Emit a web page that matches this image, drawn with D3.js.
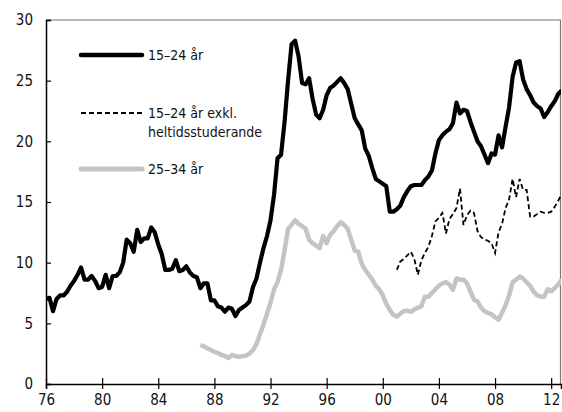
<!DOCTYPE html>
<html>
<head>
<meta charset="utf-8">
<script src="https://cdn.jsdelivr.net/npm/d3@7"></script>
<style>
  body { margin: 0; background: #fff; }
  text { font-family: "Liberation Sans Narrow", "DejaVu Sans Condensed", "Roboto Condensed", sans-serif; fill: #111; }
</style>
</head>
<body>
<script>
// Quarterly series, unemployment in percent
const start1524 = 1976;
const youth1524 = [
  7.0, 7.1, 6.0, 7.0, 7.3, 7.3, 7.6, 8.1, 8.5, 9.0, 9.6, 8.6, 8.6, 8.9, 8.5, 7.9,
  8.0, 9.0, 7.9, 8.9, 8.9, 9.2, 10.0, 11.9, 11.6, 10.9, 12.7, 11.7, 12.0, 12.0, 12.9, 12.5,
  11.5, 10.7, 9.4, 9.4, 9.5, 10.2, 9.3, 9.4, 9.7, 9.2, 8.9, 8.8, 7.9, 8.3, 8.3, 6.9,
  6.9, 6.4, 6.3, 5.96, 6.3, 6.2, 5.6, 6.1, 6.3, 6.5, 6.8, 8.0, 8.7, 10.0, 11.2, 12.2,
  13.5, 15.6, 18.6, 18.9, 21.6, 25.0, 28.0, 28.3, 27.0, 24.8, 24.7, 25.2, 23.5, 22.2, 21.9, 22.6,
  23.8, 24.4, 24.6, 24.9, 25.2, 24.8, 24.3, 23.1, 21.9, 21.4, 20.9, 19.4, 18.8, 17.8, 16.9, 16.7,
  16.5, 16.3, 14.2, 14.2, 14.4, 14.7, 15.4, 15.9, 16.3, 16.4, 16.4, 16.4, 16.8, 17.1, 17.6, 19.0,
  20.1, 20.5, 20.8, 21.0, 21.5, 23.2, 22.3, 22.6, 22.5, 21.6, 20.8, 20.0, 19.6, 18.9, 18.2, 19.0,
  18.9, 20.5, 19.5, 21.2, 22.8, 25.3, 26.5, 26.6, 25.1, 24.3, 23.8, 23.2, 22.9, 22.7, 22.0, 22.4,
  22.9, 23.3, 23.9, 24.2
];

const startExStud = 2001;
const youthExStud = [
  9.4, 10.1, 10.3, 10.6, 10.9, 10.3, 9.0, 10.2, 10.8, 11.3, 12.2, 13.4, 13.7, 14.1, 12.4, 13.6,
  14.0, 14.5, 16.1, 13.1, 13.9, 14.3, 14.1, 12.6, 12.1, 11.9, 11.8, 11.6, 10.8, 12.5, 13.2, 14.5,
  15.2, 16.9, 15.4, 16.9, 16.0, 16.0, 13.8, 13.8, 14.0, 14.2, 14.1, 14.1, 14.2, 14.6, 15.1, 15.7
];

const start2534 = 1987;
const adult2534 = [
  3.2, 3.1, 2.95, 2.8, 2.65, 2.55, 2.4, 2.3, 2.15, 2.4, 2.3, 2.25, 2.3, 2.35, 2.5, 2.8,
  3.3, 4.1, 4.9, 5.8, 6.7, 7.8, 8.4, 9.4, 11.0, 12.8, 13.1, 13.5, 13.2, 13.0, 12.8, 11.9,
  11.6, 11.4, 11.2, 12.2, 11.6, 12.3, 12.6, 13.0, 13.35, 13.1, 12.8, 11.9, 11.0, 10.9, 9.9, 9.4,
  9.0, 8.6, 8.1, 7.8, 7.3, 6.6, 6.1, 5.7, 5.55, 5.8, 6.0, 6.05, 5.95, 6.15, 6.3, 6.4,
  7.2, 7.2, 7.5, 7.8, 8.1, 8.3, 8.4, 8.2, 7.75, 8.7, 8.6, 8.6, 8.3, 7.6, 6.95, 6.8,
  6.3, 6.0, 5.85, 5.75, 5.5, 5.3, 5.9, 6.5, 7.3, 8.4, 8.6, 8.85, 8.7, 8.4, 8.1, 7.6,
  7.3, 7.2, 7.2, 7.8, 7.65, 7.9, 8.2, 8.6
];

const xTickYears = [1976, 1980, 1984, 1988, 1992, 1996, 2000, 2004, 2008, 2012];
const yTicks = [0, 5, 10, 15, 20, 25, 30];
const legendLabels = [["15–24 år"], ["15–24 år exkl.", "heltidsstuderande"], ["25–34 år"]];

const width = 562, height = 412;
const margin = {top: 20, right: 1, bottom: 28, left: 46};

const toPoints = (startYear, arr) => arr.map((v, i) => ({t: startYear + i / 4, v: v}));

const svg = d3.select("body").append("svg")
    .attr("width", width)
    .attr("height", height);

const x = d3.scaleLinear().domain([1976, 2012.7]).range([margin.left, width - margin.right]);
const y = d3.scaleLinear().domain([0, 30]).range([height - margin.bottom, margin.top]);

svg.append("defs").append("clipPath").attr("id", "plot")
  .append("rect")
    .attr("x", margin.left).attr("y", 0)
    .attr("width", width - margin.right - margin.left)
    .attr("height", height);

// frame top & right
svg.append("path")
    .attr("d", `M${margin.left},${margin.top}H${width - margin.right - 0.5}V${height - margin.bottom}`)
    .attr("fill", "none")
    .attr("stroke", "#777")
    .attr("stroke-width", 1.2);

const line = d3.line().x(d => x(d.t)).y(d => y(d.v)).curve(d3.curveLinear);

const plot = svg.append("g").attr("clip-path", "url(#plot)");

plot.append("path")
    .datum(toPoints(start2534, adult2534))
    .attr("d", line)
    .attr("fill", "none")
    .attr("stroke", "#c4c4c4")
    .attr("stroke-width", 4.5)
    .attr("stroke-linejoin", "round");

plot.append("path")
    .datum(toPoints(startExStud, youthExStud))
    .attr("d", line)
    .attr("fill", "none")
    .attr("stroke", "#000")
    .attr("stroke-width", 1.8)
    .attr("stroke-dasharray", "5,3");

plot.append("path")
    .datum(toPoints(start1524, youth1524))
    .attr("d", line)
    .attr("fill", "none")
    .attr("stroke", "#000")
    .attr("stroke-width", 4.2)
    .attr("stroke-linejoin", "round");

// axes
const yAxis = svg.append("g")
    .attr("transform", `translate(${margin.left},0)`)
    .call(d3.axisLeft(y).tickValues(yTicks).tickSize(-5).tickPadding(13));
yAxis.select(".domain").attr("stroke", "#000").attr("stroke-width", 1.5);
yAxis.selectAll(".tick line").attr("stroke", "#000").attr("stroke-width", 1.2);
yAxis.selectAll("text").style("font-size", "15px").attr("fill", "#111");

const xAxis = svg.append("g")
    .attr("transform", `translate(0,${height - margin.bottom})`)
    .call(d3.axisBottom(x).tickValues(xTickYears).tickSize(5)
        .tickFormat(d => String(d % 100).padStart(2, "0")));
xAxis.select(".domain").attr("stroke", "#000").attr("stroke-width", 1.5);
xAxis.selectAll(".tick line").attr("stroke", "#000").attr("stroke-width", 1.2).attr("y1", -6);
xAxis.selectAll("text").style("font-size", "15px").attr("fill", "#111").attr("y", 10);

// legend
const legendY = [55, 113, 169];
const legendStyles = [
  {stroke: "#000", width: 4.5, dash: null, cap: "round"},
  {stroke: "#000", width: 1.8, dash: "5,3", cap: "butt"},
  {stroke: "#c4c4c4", width: 5, dash: null, cap: "round"}
];
const legend = svg.append("g");
legendLabels.forEach((lines, k) => {
  const s = legendStyles[k];
  legend.append("line")
      .attr("x1", 81).attr("x2", 142)
      .attr("y1", legendY[k]).attr("y2", legendY[k])
      .attr("stroke", s.stroke)
      .attr("stroke-width", s.width)
      .attr("stroke-linecap", s.cap)
      .attr("stroke-dasharray", s.dash);
  legend.append("text")
      .attr("x", 148)
      .attr("y", legendY[k] + 5)
      .style("font-size", "14px")
      .selectAll("tspan")
      .data(lines)
      .join("tspan")
        .attr("x", 148)
        .attr("dy", (d, j) => j === 0 ? 0 : 19)
        .text(d => d);
});
</script>
</body>
</html>
